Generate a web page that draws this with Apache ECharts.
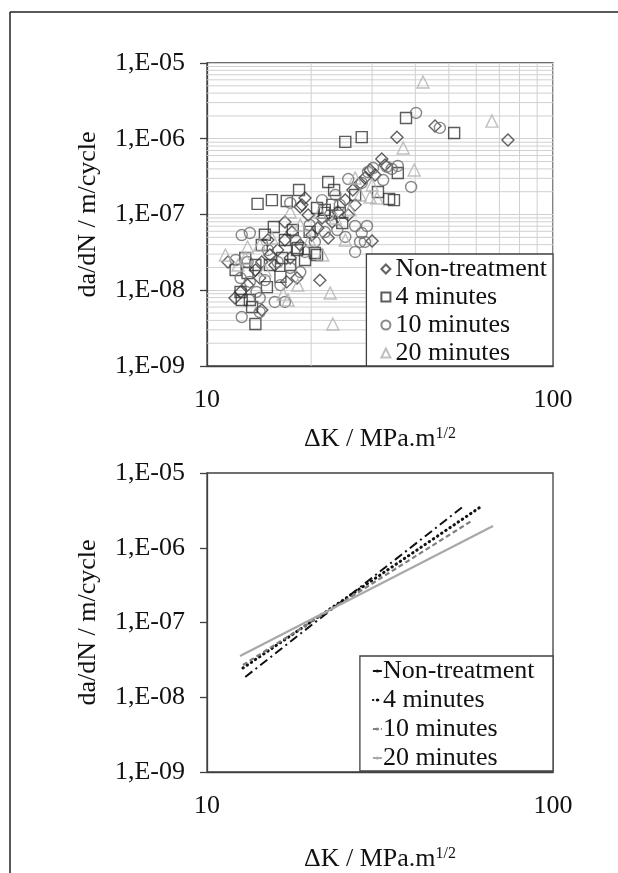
<!DOCTYPE html>
<html><head><meta charset="utf-8">
<script src="https://cdn.jsdelivr.net/npm/echarts@6/dist/echarts.min.js"></script>
<style>html,body{margin:0;padding:0;background:#fff}#c{width:618px;height:873px}</style>
</head><body><div id="c"></div>
<script>
// ---- Data ----
var seriesNames = ['Non-treatment', '4 minutes', '10 minutes', '20 minutes'];
var xTickLabels = ['10', '100'];
var yTickLabels = ['1,E-09', '1,E-08', '1,E-07', '1,E-06', '1,E-05'];

var nonTreatment = [[74.1,9.6e-7],[45.6,1.47e-6],[35.4,1.05e-6],[32.0,5.4e-7],[30.0,4.47e-8],[21.2,1.36e-8],[26.4,2.11e-7],[27.7,2.61e-7],[22.4,4.9e-8],[18.8,1.34e-7],[19.2,1.65e-7],[18.6,1.26e-7],[14.4,5.48e-9],[14.2,1.45e-8],[18.2,1.45e-8],[17.0,1.29e-8],[29.6,3.87e-7],[28.6,3.03e-7],[25.1,1.55e-7],[23.9,1.08e-7],[23.0,7.96e-8],[20.9,6.64e-8],[20.1,5.36e-8],[19.6,9.85e-8],[17.6,5.87e-8],[16.8,4.61e-8],[16.0,3.4e-8],[15.2,2.92e-8],[14.4,2.36e-8],[13.8,1.85e-8],[13.1,1.17e-8],[12.5,9.5e-9],[12.05,7.9e-9],[11.5,2.36e-8],[15.7,2.15e-8],[17.4,2.67e-8],[18.6,3.96e-8],[25.6,9.85e-8],[26.8,1.34e-7],[30.6,3.32e-7],[16.8,7.96e-8],[15.0,4.61e-8],[21.5,9.0e-8],[32.7,4.5e-7]];
var min4 = [[25.1,9.1e-7],[28.0,1.05e-6],[37.6,1.88e-6],[51.8,1.19e-6],[35.6,3.53e-7],[33.6,1.6e-7],[34.7,1.55e-7],[14.0,1.38e-7],[15.4,1.55e-7],[17.0,1.51e-7],[18.45,2.11e-7],[22.4,2.69e-7],[23.3,2.11e-7],[20.8,1.22e-7],[21.8,1.05e-7],[23.0,1.34e-7],[24.2,1.05e-7],[24.6,7.72e-8],[15.6,6.84e-8],[13.8,3.58e-9],[12.6,7.43e-9],[13.3,7.43e-9],[13.1,1.69e-8],[20.5,3.1e-8],[16.3,1.5e-8],[18.2,3.4e-8],[19.2,2.51e-8],[14.9,1.1e-8],[13.5,6.0e-9],[13.8,2.15e-8],[12.9,2.67e-8],[16.5,2.67e-8],[18.3,3.61e-8],[21.9,1.15e-7],[31.2,1.98e-7],[17.7,6.24e-8],[20.8,2.92e-8],[19.8,5.9e-8],[16.8,4.6e-8],[14.4,3.96e-8],[15.2,2.15e-8],[17.4,2.15e-8],[12.5,9.5e-9],[14.7,5.4e-8],[26.8,1.81e-7],[12.1,1.85e-8]];
var min10 = [[40.2,2.19e-6],[47.1,1.39e-6],[38.9,2.31e-7],[35.6,4.37e-7],[25.6,2.94e-7],[29.2,3.64e-7],[30.2,4.11e-7],[34.2,3.99e-7],[28.0,2.61e-7],[32.3,2.85e-7],[33.1,4.24e-7],[26.8,7.05e-8],[29.0,7.05e-8],[27.7,4.34e-8],[26.8,3.2e-8],[25.1,5.05e-8],[23.8,6.24e-8],[12.6,4.43e-9],[14.2,5.16e-9],[28.6,4.34e-8],[28.0,5.7e-8],[13.3,5.7e-8],[12.6,5.36e-8],[15.7,7.0e-9],[13.9,9.5e-9],[14.2,7.9e-9],[16.8,7.0e-9],[18.6,1.74e-8],[17.4,1.42e-7],[15.0,3.4e-8],[16.0,2.36e-8],[17.4,1.97e-8],[19.2,3.2e-8],[20.5,4.34e-8],[21.9,5.87e-8],[22.7,9.85e-8],[24.2,1.34e-7],[19.8,7.26e-8],[18.0,4.61e-8],[16.3,1.17e-8],[14.7,1.36e-8],[13.1,2.36e-8],[12.5,1.45e-8],[12.1,2.51e-8],[23.5,1.81e-7],[21.5,1.55e-7],[13.3,1.29e-8]];
var min20 = [[42.1,5.61e-6],[66.6,1.71e-6],[36.9,7.55e-7],[39.7,3.87e-7],[22.7,9.2e-9],[23.1,3.58e-9],[30.0,2.45e-7],[31.0,1.65e-7],[25.1,4.61e-8],[29.6,1.7e-7],[12.9,2.67e-8],[13.1,3.72e-8],[17.15,7.43e-9],[16.6,8.9e-9],[21.6,2.92e-8],[17.4,1.08e-7],[21.2,1.08e-7],[11.3,2.92e-8],[12.3,2.15e-8],[14.2,3.96e-8],[15.4,4.9e-8],[18.6,7.26e-8],[19.8,4.61e-8],[23.5,9.0e-8],[25.9,1.15e-7],[27.7,1.81e-7],[14.7,1.85e-8],[18.3,1.17e-8],[26.8,3.03e-7]];

// fitted lines (start and end points) for the lower chart
var fitNonTreatment = [[12.9, 1.87e-8], [55.7, 3.73e-6]];
var fit4min = [[12.7, 2.46e-8], [62.3, 3.62e-6]];
var fit10min = [[12.7, 2.7e-8], [58.7, 2.35e-6]];
var fit20min = [[12.46, 3.56e-8], [67.1, 1.95e-6]];

var xMinorGrid = [20, 30, 40, 50, 60, 70, 80, 90];
var yMinorMult = [2, 3, 4, 5, 6, 7, 8, 9];
var yDecades = [1e-9, 1e-8, 1e-7, 1e-6];
var xRange = [10, 100];
var yRange = [1e-9, 1e-5];

// ---- Chart ----
var FONT = 'Liberation Serif';
var GRID_COL = '#d0d0d0';
var yMinor = [];
yDecades.forEach(function (d) { yMinorMult.forEach(function (m) { yMinor.push(m * d); }); });

function gridSeries() {
  var out = [];
  xMinorGrid.forEach(function (v) {
    out.push({ type: 'line', data: [[v, yRange[0]], [v, yRange[1]]], xAxisIndex: 0, yAxisIndex: 0, symbol: 'none', silent: true, z: 1,
      lineStyle: { color: GRID_COL, width: 1 }, emphasis: { disabled: true }, tooltip: { show: false } });
  });
  yMinor.forEach(function (v) {
    out.push({ type: 'line', data: [[xRange[0], v], [xRange[1], v]], xAxisIndex: 0, yAxisIndex: 0, symbol: 'none', silent: true, z: 1,
      lineStyle: { color: GRID_COL, width: 1 }, emphasis: { disabled: true }, tooltip: { show: false } });
  });
  return out;
}

function yFmt(v) { var e = Math.round(Math.log10(v)); return yTickLabels[e + 9] || ''; }
function xFmt(v) { var e = Math.round(Math.log10(v)); return xTickLabels[e - 1] || ''; }

var axisCol = '#404040';
function xAxisDef(idx, gap) {
  return {
    type: 'log', logBase: 10, gridIndex: idx, min: xRange[0], max: xRange[1], interval: 1,
    axisLine: { show: true, lineStyle: { color: axisCol, width: 1.3 } },
    axisTick: { show: false },
    axisLabel: { formatter: xFmt, fontFamily: FONT, fontSize: 26, color: '#111', margin: 21 },
    splitLine: { show: idx === 0, lineStyle: { color: GRID_COL, width: 1 } },
    name: '{a|ΔK / MPa.m}{b|1/2}', nameLocation: 'middle', nameGap: gap,
    nameTextStyle: { rich: { a: { fontFamily: FONT, fontSize: 26, color: '#111' }, b: { fontFamily: FONT, fontSize: 16, color: '#111', verticalAlign: 'top' } } }
  };
}
function yAxisDef(idx) {
  return {
    type: 'log', logBase: 10, gridIndex: idx, min: yRange[0], max: yRange[1], interval: 1,
    axisLine: { show: true, lineStyle: { color: axisCol, width: 1.3 } },
    axisTick: { show: true, length: 7, lineStyle: { color: axisCol, width: 1.3 } },
    axisLabel: { formatter: yFmt, fontFamily: FONT, fontSize: 26, color: '#111', margin: 22 },
    splitLine: { show: idx === 0, lineStyle: { color: GRID_COL, width: 1 } },
    name: 'da/dN / m/cycle', nameLocation: 'middle', nameGap: 106, nameRotate: 90,
    nameTextStyle: { fontFamily: FONT, fontSize: 26, color: '#111' }
  };
}
function sc(name, data, symbol, col, size) {
  return { type: 'scatter', name: name, data: data, xAxisIndex: 0, yAxisIndex: 0, symbol: symbol, symbolSize: size, z: 3,
    itemStyle: { color: 'rgba(255,255,255,0)', borderColor: col, borderWidth: 1.4 } };
}
function ln(name, data, col, width, dash, cap) {
  return { type: 'line', name: name, data: data, xAxisIndex: 1, yAxisIndex: 1, symbol: 'none', z: 3,
    lineStyle: { color: col, width: width, type: dash, cap: cap || 'butt' }, itemStyle: { color: col } };
}

var chart = echarts.init(document.getElementById('c'), null, { renderer: 'canvas' });
chart.setOption({
  animation: false,
  backgroundColor: '#fff',
  grid: [
    { left: 207, top: 63, width: 346, height: 303, show: true, borderColor: axisCol, borderWidth: 1.3, backgroundColor: 'transparent' },
    { left: 207, top: 473, width: 346, height: 299, show: true, borderColor: axisCol, borderWidth: 1.3, backgroundColor: 'transparent' }
  ],
  xAxis: [xAxisDef(0, 60), xAxisDef(1, 74)],
  yAxis: [yAxisDef(0), yAxisDef(1)],
  legend: [
    { data: seriesNames.map(function (n) { return { name: n }; }), orient: 'vertical', right: 65, bottom: 507,
      itemWidth: 9, itemHeight: 9, itemGap: 2, padding: [2, 6, 0, 14],
      borderColor: axisCol, borderWidth: 1.3, backgroundColor: '#fff',
      textStyle: { fontFamily: FONT, fontSize: 26, color: '#111' }, selectedMode: false },
    { data: seriesNames.map(function (n) { return { name: n + ' ' }; }), orient: 'vertical', right: 65, bottom: 102,
      itemWidth: 9, itemHeight: 4, itemGap: 3, padding: [2, 12, 0, 12],
      borderColor: axisCol, borderWidth: 1.3, backgroundColor: '#fff',
      textStyle: { fontFamily: FONT, fontSize: 26, color: '#111', padding: [0, 0, 0, -4] }, selectedMode: false }
  ],
  graphic: [
    { type: 'line', shape: { x1: 10, y1: 12, x2: 618, y2: 12 }, style: { stroke: '#222', lineWidth: 1.5 }, silent: true },
    { type: 'line', shape: { x1: 10, y1: 12, x2: 10, y2: 873 }, style: { stroke: '#222', lineWidth: 1.5 }, silent: true }
  ],
  series: gridSeries().concat([
    sc(seriesNames[0], nonTreatment, 'diamond', '#3a3a3a', 12),
    sc(seriesNames[1], min4, 'rect', '#333333', 11),
    sc(seriesNames[2], min10, 'circle', '#6a6a6a', 11),
    sc(seriesNames[3], min20, 'triangle', '#b0b0b0', 12),
    ln(seriesNames[0] + ' ', fitNonTreatment, '#111', 2, [9, 4, 2, 4]),
    ln(seriesNames[1] + ' ', fit4min, '#111', 3, [0.5, 4.5], 'round'),
    ln(seriesNames[2] + ' ', fit10min, '#7f7f7f', 2.2, [5, 3]),
    ln(seriesNames[3] + ' ', fit20min, '#a8a8a8', 2.2, 'solid')
  ])
});
</script></body></html>
